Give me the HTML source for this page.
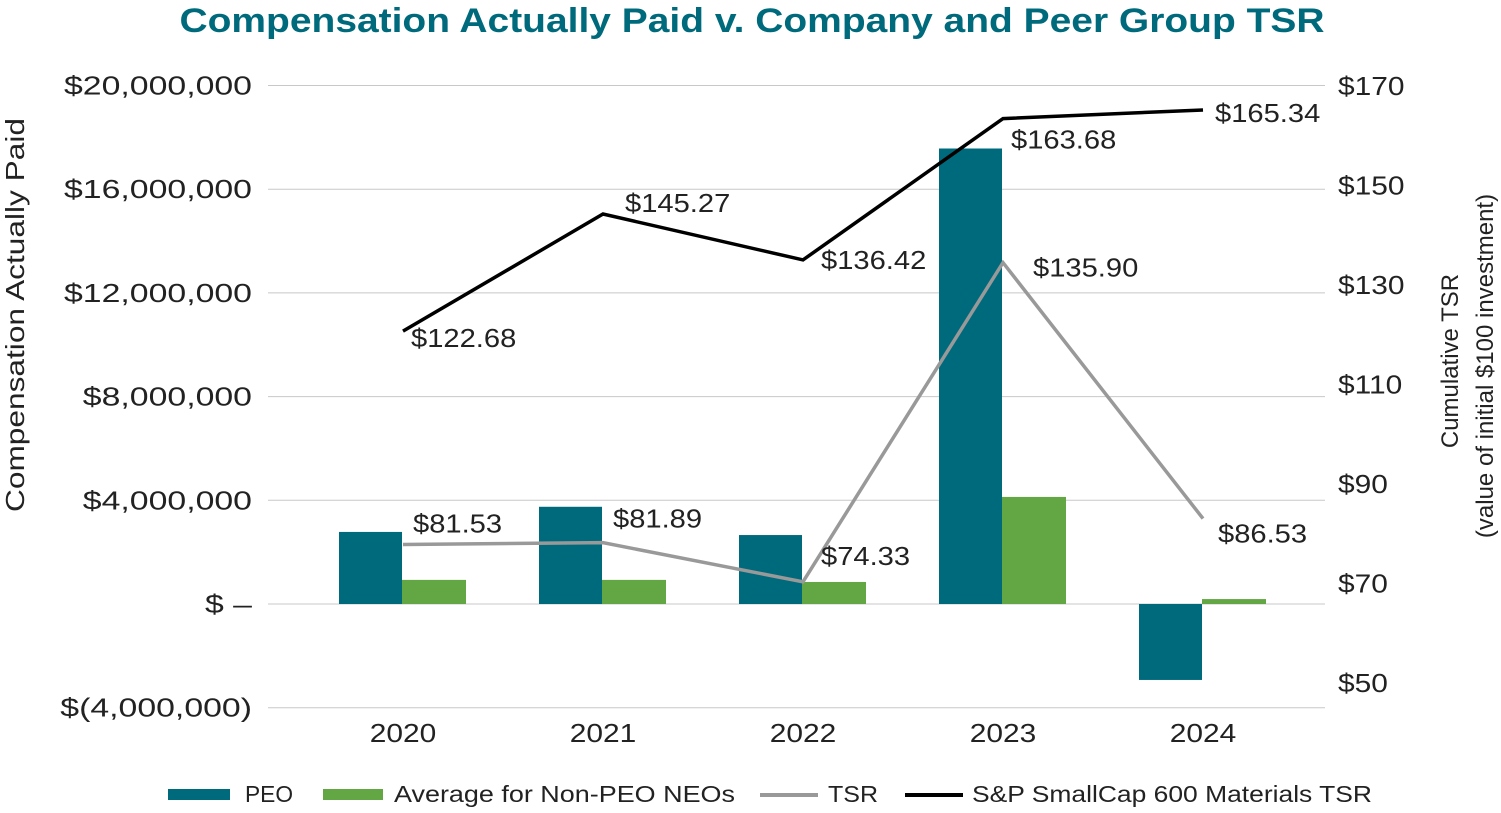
<!DOCTYPE html>
<html><head><meta charset="utf-8"><style>
body{margin:0;background:#fff;}
svg text{font-family:"Liberation Sans",sans-serif;}
</style></head><body>
<svg id="c" width="1501" height="808" xmlns="http://www.w3.org/2000/svg">
<text x="752" y="32" text-anchor="middle" font-size="34" font-weight="bold" fill="#006a7d" textLength="1145" lengthAdjust="spacingAndGlyphs">Compensation Actually Paid v. Company and Peer Group TSR</text>
<text transform="translate(24,315) rotate(-90)" text-anchor="middle" font-size="26" fill="#222" textLength="394" lengthAdjust="spacingAndGlyphs">Compensation Actually Paid</text>
<text transform="translate(1458,361) rotate(-90)" text-anchor="middle" font-size="24" fill="#222">Cumulative TSR</text>
<text transform="translate(1493,366) rotate(-90)" text-anchor="middle" font-size="24" fill="#222">(value of initial $100 investment)</text>
<g id="legend" font-size="23" fill="#222">
<rect x="168" y="789" width="62" height="11" fill="#006a7d"/>
<text x="245" y="802" textLength="48" lengthAdjust="spacingAndGlyphs">PEO</text>
<rect x="323" y="789" width="60" height="11" fill="#62a744"/>
<text x="394" y="802" textLength="341" lengthAdjust="spacingAndGlyphs">Average for Non-PEO NEOs</text>
<rect x="760" y="793" width="58" height="4" fill="#999"/>
<text x="828" y="802" textLength="50" lengthAdjust="spacingAndGlyphs">TSR</text>
<rect x="905" y="793" width="58" height="4" fill="#000"/>
<text x="972" y="802" textLength="400" lengthAdjust="spacingAndGlyphs">S&amp;P SmallCap 600 Materials TSR</text>
</g>
</svg>
<script>
const categories=["2020","2021","2022","2023","2024"];
const peo=[2780000,3750000,2660000,17570000,-2930000];
const neo=[930000,930000,850000,4130000,190000];
const tsr=[81.53,81.89,74.33,135.90,86.53];
const sp=[122.68,145.27,136.42,163.68,165.34];
const leftTicks=[20000000,16000000,12000000,8000000,4000000,0,-4000000];
const leftTickLabels=["$20,000,000","$16,000,000","$12,000,000","$8,000,000","$4,000,000","$ \u2013","$(4,000,000)"];
const rightTicks=[170,150,130,110,90,70,50];
const rightTickLabels=["$170","$150","$130","$110","$90","$70","$50"];
const NS="http://www.w3.org/2000/svg";
const svg=document.getElementById('c');
const yL=v=>604-(v/4000000)*103.7;
const yR=v=>708-(v-50)*5.185;
const xC=i=>403+200*i;
function mk(t,a,p){const e=document.createElementNS(NS,t);for(const k in a)e.setAttribute(k,a[k]);(p||svg).appendChild(e);return e;}
function stretch(t,k){const l=t.getComputedTextLength();t.setAttribute('textLength',l*k);t.setAttribute('lengthAdjust','spacingAndGlyphs');}
leftTicks.forEach((v,i)=>{
 const g=mk('line',{x1:268,x2:1325,y1:yL(v),y2:yL(v),stroke:'#c8c8c8','stroke-width':1});
 
 
 const t=mk('text',{x:252,y:yL(v)+9,'text-anchor':'end','font-size':26,fill:'#222'});
 t.textContent=leftTickLabels[i];
 
 
 stretch(t,1.3);
});
rightTicks.forEach((v,i)=>{
 const t=mk('text',{x:1338,y:95+i*99.5,'font-size':26,fill:'#222'});
 t.textContent=rightTickLabels[i];
 
 
 stretch(t,1.15);
});
categories.forEach((c,i)=>{
 const t=mk('text',{x:xC(i),y:742,'text-anchor':'middle','font-size':26,fill:'#222'});
 t.textContent=c;
 
 
 stretch(t,1.15);
 const y0=yL(0),y1=yL(peo[i]);
 const b=mk('rect',{x:xC(i)-64,y:Math.min(y0,y1),width:63,height:Math.abs(y1-y0),fill:'#006a7d'});
 
 
 const y2=yL(neo[i]);
 const b2=mk('rect',{x:xC(i)-1,y:Math.min(y0,y2),width:64,height:Math.abs(y2-y0),fill:'#62a744'});
 
 
});
function line(arr,color,name){
 const p=mk('polyline',{points:arr.map((v,i)=>xC(i)+','+yR(v)).join(' '),fill:'none',stroke:color,'stroke-width':3.5});
 
 
}
line(tsr,'#999','tsr-line');
line(sp,'#000','sp-line');
const tsrOff=[[10,-12],[10,-15],[18,-17],[30,14],[15,24]];
const spOff=[[8,16],[22,-2],[18,9],[8,30],[12,12]];
function labels(arr,off,name){
 arr.forEach((v,i)=>{
  const t=mk('text',{x:xC(i)+off[i][0],y:yR(v)+off[i][1],'font-size':26,fill:'#222'});
  t.textContent='$'+v.toFixed(2);
  
  
  stretch(t,1.12);
 });
}
labels(tsr,tsrOff,'tsr-value-label');
labels(sp,spOff,'sp-value-label');
</script>
</body></html>
